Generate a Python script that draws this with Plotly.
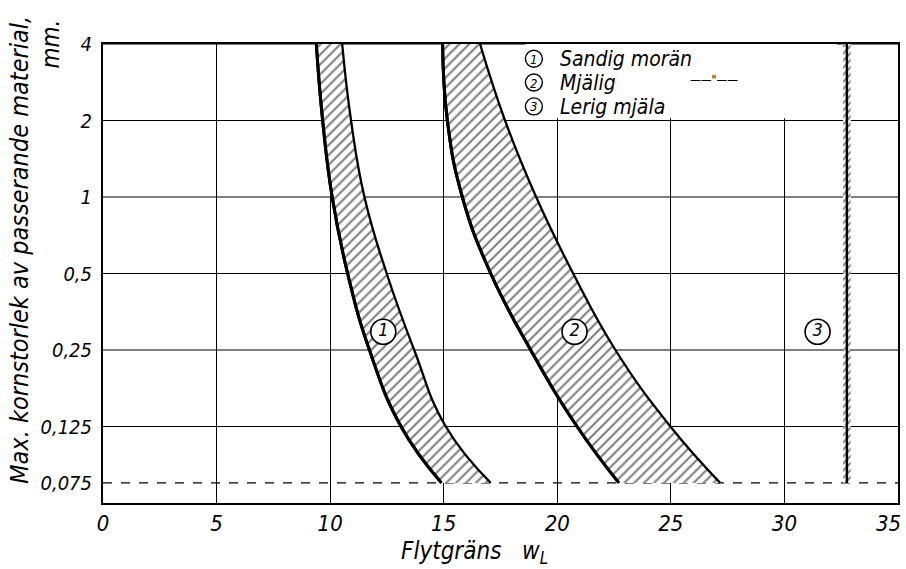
import plotly.graph_objects as go
import math

# ---- data ----
y_levels = [4, 2, 1, 0.5, 0.25, 0.125, 0.075]
moran_left = [9.39, 9.67, 10.09, 10.77, 11.73, 13.12, 14.9]
moran_right = [10.53, 10.92, 11.51, 12.49, 13.70, 15.09, 17.07]
mjalig_left = [14.95, 15.16, 15.82, 17.07, 18.83, 20.87, 22.71]
mjalig_right = [16.60, 17.70, 19.07, 20.70, 22.56, 24.98, 27.17]
mjala_x = 32.75
mjala_y = [4, 0.075]

label_nums = ["1", "2", "3"]
label_x = [12.34, 20.76, 31.46]
label_y = [0.295, 0.295, 0.295]

legend_names = ["Sandig morän", "Mjälig", "Lerig mjäla"]

x_ticks = [0, 5, 10, 15, 20, 25, 30, 35]
x_ticktext = ["0", "5", "10", "15", "20", "25", "30", ""]
x_last_label = "35"
y_ticks = [0.075, 0.125, 0.25, 0.5, 1, 2, 4]
y_ticktext = ["0,075", "0,125", "0,25", "0,5", "1", "2", "4"]

FONT = "DejaVu Sans Condensed, DejaVu Sans, sans-serif"

fig = go.Figure()

hatch = dict(shape="/", fgcolor="black", bgcolor="white", size=7, solidity=0.3)
SM = 1.3

for left, right in [(moran_left, moran_right), (mjalig_left, mjalig_right)]:
    fig.add_trace(go.Scatter(x=left, y=y_levels, mode="lines",
                             line=dict(color="black", width=3, shape="spline", smoothing=SM),
                             hoverinfo="skip", showlegend=False))
    fig.add_trace(go.Scatter(x=right, y=y_levels, mode="lines", fill="tonextx",
                             fillpattern=hatch, fillcolor="white",
                             line=dict(color="black", width=2.3, shape="spline", smoothing=SM),
                             hoverinfo="skip", showlegend=False))
    fig.add_trace(go.Scatter(x=left, y=y_levels, mode="lines",
                             line=dict(color="black", width=3, shape="spline", smoothing=SM),
                             hoverinfo="skip", showlegend=False))

# band 3: narrow hatched line
fig.add_trace(go.Scatter(x=[mjala_x - 0.17, mjala_x - 0.17], y=mjala_y, mode="lines",
                         line=dict(width=0, color="rgba(0,0,0,0)"), hoverinfo="skip", showlegend=False))
fig.add_trace(go.Scatter(x=[mjala_x + 0.17, mjala_x + 0.17], y=mjala_y, mode="lines", fill="tonextx",
                         fillpattern=dict(shape="/", fgcolor="black", bgcolor="white", size=5, solidity=0.35),
                         fillcolor="white",
                         line=dict(width=0, color="rgba(0,0,0,0)"), hoverinfo="skip", showlegend=False))
fig.add_trace(go.Scatter(x=[mjala_x, mjala_x], y=mjala_y, mode="lines",
                         line=dict(color="black", width=2.5), hoverinfo="skip", showlegend=False))

# circled labels
fig.add_trace(go.Scatter(x=label_x, y=label_y, mode="markers+text", text=label_nums,
                         textposition="middle center",
                         textfont=dict(family=FONT, size=18, color="black", style="italic"),
                         marker=dict(symbol="circle", size=25, color="white",
                                     line=dict(color="black", width=1.6)),
                         hoverinfo="skip", showlegend=False))

shapes = []
for v in y_ticks:
    if v == 0.075:
        shapes.append(dict(type="line", xref="paper", x0=0, x1=1, yref="y", y0=v, y1=v,
                           line=dict(color="black", width=1.4, dash="dash"), layer="between"))
    else:
        shapes.append(dict(type="line", xref="paper", x0=0, x1=1, yref="y", y0=v, y1=v,
                           line=dict(color="black", width=1), layer="between"))
shapes.append(dict(type="rect", xref="x", yref="y", x0=18.6, x1=32.3, y0=2.04, y1=4,
                   fillcolor="white", line=dict(width=0), layer="between"))

annotations = []
ly = [0.968, 0.916, 0.864]
cx = 0.542
rx = 8.5 / 797
ry = 8.5 / 459
for i in range(3):
    shapes.append(dict(type="circle", xref="paper", yref="paper", x0=cx - rx, x1=cx + rx,
                       y0=ly[i] - ry, y1=ly[i] + ry, line=dict(color="black", width=1.4),
                       fillcolor="white", layer="above"))
    annotations.append(dict(xref="paper", yref="paper", x=cx, y=ly[i], xanchor="center", yanchor="middle",
                            text=label_nums[i], showarrow=False, height=16,
                            font=dict(family=FONT, size=13, color="black", style="italic")))
    annotations.append(dict(xref="paper", yref="paper", x=0.572, y=ly[i], xanchor="left", yanchor="middle",
                            text=legend_names[i], showarrow=False, height=23,
                            font=dict(family=FONT, size=21, color="black", style="italic")))
fig.update_layout(shapes=shapes)

annotations.append(dict(xref="paper", yref="paper", x=0.736, y=ly[1] + 0.006, xanchor="left", yanchor="middle",
                        text="\u2014\u2014\"\u2014\u2014", showarrow=False, height=15,
                        font=dict(family=FONT, size=12, color="black")))
# last x tick label (kept inside the page, as in the reference)
annotations.append(dict(xref="paper", yref="paper", x=1, y=-0.045, xanchor="right", yanchor="middle",
                        xshift=5, text=x_last_label, showarrow=False,
                        font=dict(family=FONT, size=22, color="black", style="italic")))
# y-axis title (two lines)
annotations.append(dict(xref="paper", yref="paper", x=-0.106, y=0.551, xanchor="center", yanchor="middle",
                        textangle=-90, text="Max. kornstorlek av passerande material,", showarrow=False,
                        font=dict(family=FONT, size=25, color="black", style="italic")))
annotations.append(dict(xref="paper", yref="paper", x=-0.066, y=1.0, xanchor="center", yanchor="middle",
                        textangle=-90, text="mm.", showarrow=False,
                        font=dict(family=FONT, size=24, color="black", style="italic")))
# x-axis title
annotations.append(dict(xref="paper", yref="paper", x=0.372, y=-0.108, xanchor="left", yanchor="middle",
                        text="Flytgräns   <i>w</i><sub>L</sub>", showarrow=False,
                        font=dict(family=FONT, size=24, color="black", style="italic")))
fig.update_layout(annotations=annotations)

fig.update_xaxes(range=[0, 35], tickvals=x_ticks, ticktext=x_ticktext, showgrid=True,
                 gridcolor="black", gridwidth=1,
                 showline=True, linecolor="black", linewidth=2, mirror=True, ticks="",
                 zeroline=False, tickfont=dict(family=FONT, size=22, color="black", style="italic"))
fig.update_yaxes(type="log", range=[math.log10(0.0625), math.log10(4)], tickvals=y_ticks,
                 ticktext=y_ticktext, showgrid=False, showline=True, linecolor="black", linewidth=2,
                 mirror=True, ticks="", zeroline=False, ticklabelstandoff=5,
                 tickfont=dict(family=FONT, size=20, color="black", style="italic"))

fig.update_layout(width=906, height=569, margin=dict(l=103, r=6, t=44, b=66),
                  plot_bgcolor="white", paper_bgcolor="white",
                  font=dict(family=FONT, color="black"))

fig.write_html("out.html")
